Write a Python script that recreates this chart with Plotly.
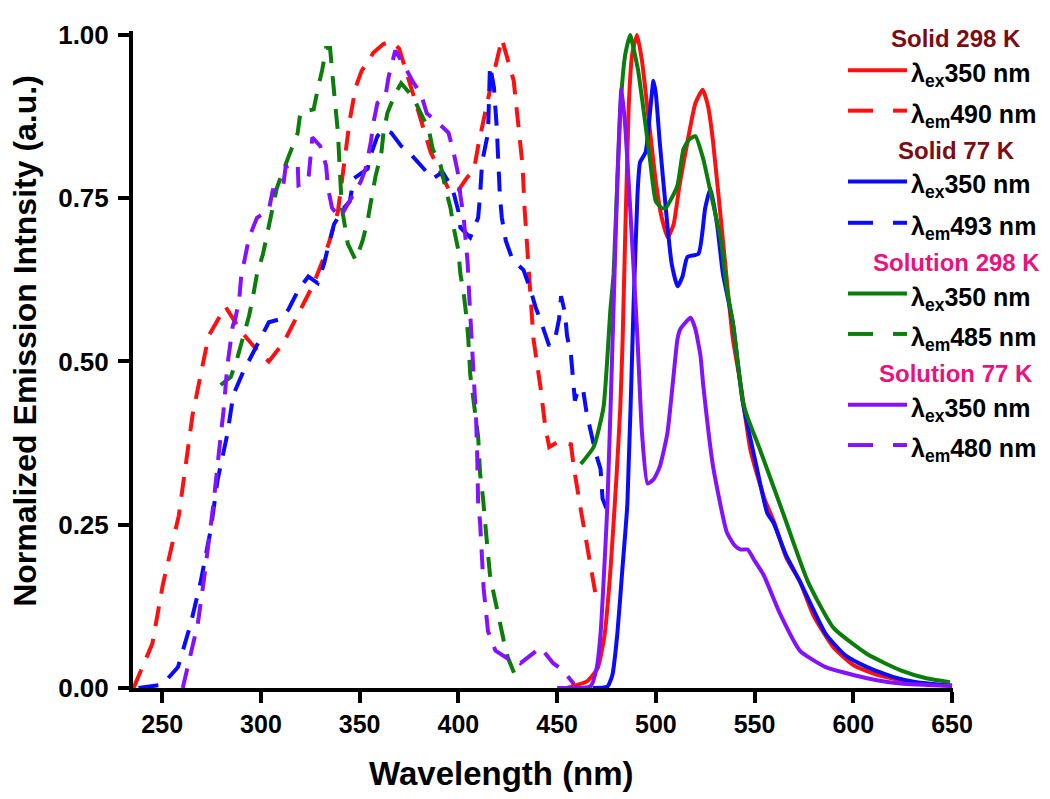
import plotly.graph_objects as go

# ---------------- data ----------------
# Solid 298 K, emission (lambda_ex 350 nm)
red_ex_x = [455, 465, 470.5, 474, 477, 480, 482, 483.2, 486.2, 488, 490.5, 493, 495.8, 500, 503, 506, 509, 512, 516, 520,
            523.7, 526.5, 529, 534, 539, 543, 548, 555, 560, 566, 573, 580, 590, 600, 612, 624, 637, 650]
red_ex_y = [0, 0.01, 0.03, 0.08, 0.18, 0.32, 0.43, 0.535, 0.886, 0.97, 1.0, 0.96, 0.886, 0.775, 0.72, 0.69, 0.71, 0.77,
            0.836, 0.895, 0.916, 0.89, 0.836, 0.685, 0.535, 0.464, 0.363, 0.29, 0.253, 0.2, 0.163, 0.11, 0.062, 0.035,
            0.02, 0.012, 0.006, 0.003]
# Solid 298 K, excitation (lambda_em 490 nm)
red_em_x = [235.5, 245, 250.3, 258.4, 265.4, 273.5, 282, 289.7, 298.9, 304, 311.5, 316.6, 326.7, 332, 335.3, 339, 341,
            342.5, 345, 348, 351, 357, 362, 366, 370, 377, 386, 391, 396, 400, 404, 408, 410, 416, 422, 428, 430, 432.5,
            433.5, 435, 438, 441.6, 444, 446, 451, 457, 458.4, 462, 466, 469.5]
red_em_y = [0, 0.068, 0.158, 0.264, 0.419, 0.539, 0.584, 0.547, 0.514, 0.5, 0.529, 0.559, 0.619, 0.66, 0.69, 0.73, 0.78,
            0.815, 0.87, 0.92, 0.945, 0.973, 0.986, 0.99, 0.979, 0.91, 0.82, 0.79, 0.757, 0.762, 0.78, 0.795, 0.83,
            0.916, 0.994, 0.93, 0.866, 0.8, 0.735, 0.664, 0.535, 0.46, 0.4, 0.369, 0.378, 0.373, 0.339, 0.273, 0.203,
            0.143]

# Solid 77 K, emission
blue_ex_x = [468, 475.4, 478, 480.5, 483, 485.6, 488.7, 490.7, 492, 494.8, 497, 498.8, 500, 502, 505.8, 508, 511, 513.5,
             516, 521.6, 525, 527.7, 531, 534, 539, 544, 551, 556.4, 559.6, 566, 573, 586, 596, 607, 620, 632, 650]
blue_ex_y = [0, 0.002, 0.02, 0.083, 0.18, 0.283, 0.584, 0.755, 0.805, 0.82, 0.88, 0.93, 0.91, 0.835, 0.71, 0.65, 0.615,
             0.63, 0.66, 0.665, 0.735, 0.765, 0.71, 0.634, 0.559, 0.438, 0.339, 0.268, 0.253, 0.203, 0.163, 0.083, 0.05,
             0.032, 0.017, 0.009, 0.004]
# Solid 77 K, excitation (lambda_em 493 nm)
blue_em_x = [238, 250, 258, 264.4, 269.5, 274.6, 278, 283, 286, 291, 298, 304, 310, 314, 319, 324, 328.7, 332, 334, 337,
             342, 345, 347, 354, 356, 359, 362, 366, 371, 376, 381, 387, 392, 397, 400, 401, 406, 410, 411, 412, 415,
             415.5, 416, 418, 419, 419.5, 420, 420.5, 421, 422, 424, 427.5, 433, 436.5, 439, 442.6, 446, 449, 451, 452,
             454, 455, 457, 458, 459, 460, 463, 465, 467, 469.5, 472, 473, 475.6]
blue_em_y = [0, 0.005, 0.032, 0.098, 0.163, 0.243, 0.318, 0.389, 0.449, 0.484, 0.525, 0.56, 0.565, 0.58, 0.61, 0.63,
             0.62, 0.65, 0.675, 0.71, 0.735, 0.745, 0.78, 0.795, 0.82, 0.845, 0.855, 0.85, 0.83, 0.817, 0.8, 0.78, 0.79,
             0.765, 0.73, 0.705, 0.69, 0.72, 0.755, 0.805, 0.85, 0.92, 0.953, 0.92, 0.886, 0.855, 0.82, 0.785, 0.755,
             0.72, 0.685, 0.655, 0.64, 0.61, 0.584, 0.554, 0.524, 0.535, 0.565, 0.6, 0.574, 0.54, 0.51, 0.475, 0.44,
             0.45, 0.46, 0.42, 0.39, 0.36, 0.335, 0.29, 0.27]

# Solution 298 K, emission
green_ex_x = [462, 468.5, 473.5, 477, 478.6, 482, 484.5, 487, 489, 491, 494, 497, 500, 503, 505, 508, 511, 514, 517, 520,
              524, 528, 533, 536, 539, 544, 546.5, 553, 565, 577, 590, 607, 624, 637, 649]
green_ex_y = [0.343, 0.369, 0.43, 0.58, 0.634, 0.886, 0.97, 1.0, 0.975, 0.946, 0.88, 0.81, 0.745, 0.735, 0.735, 0.75,
              0.77, 0.825, 0.84, 0.845, 0.81, 0.755, 0.685, 0.61, 0.56, 0.44, 0.414, 0.363, 0.263, 0.163, 0.092, 0.052,
              0.027, 0.015, 0.009]
# Solution 298 K, excitation (lambda_em 485 nm)
green_em_x = [279.6, 284.7, 288, 291, 294, 296, 298, 301, 303, 305, 308, 311, 315, 318.6, 320, 326.7, 328.7, 331, 333,
              335, 336, 337, 338, 339, 340, 341, 344, 348, 351.5, 354, 356, 358, 361, 362, 364, 368, 371, 377, 380, 385,
              387, 391, 393.5, 396, 397.6, 400, 401, 402.7, 404, 405, 406, 408, 410, 411, 412.5, 414, 415, 416, 418,
              420, 423, 425, 429]
green_em_y = [0.464, 0.476, 0.505, 0.535, 0.57, 0.6, 0.634, 0.664, 0.694, 0.724, 0.765, 0.79, 0.82, 0.85, 0.882, 0.886,
              0.916, 0.946, 0.98, 0.98, 0.946, 0.916, 0.88, 0.85, 0.79, 0.735, 0.68, 0.655, 0.685, 0.715, 0.75, 0.783,
              0.82, 0.848, 0.88, 0.91, 0.926, 0.905, 0.886, 0.855, 0.825, 0.8, 0.765, 0.735, 0.705, 0.67, 0.634, 0.604,
              0.57, 0.535, 0.48, 0.43, 0.385, 0.328, 0.29, 0.238, 0.203, 0.173, 0.143, 0.113, 0.072, 0.047, 0.017]

# Solution 77 K, emission
purple_ex_x = [450, 467, 470, 472, 475.5, 478.6, 480.6, 482.6, 484.5, 487, 490.7, 493, 495.8, 499, 502, 505.8, 508.5,
               511, 512.5, 517.6, 520, 522.6, 524, 529, 536, 540, 543, 546.5, 550, 554.6, 563, 573, 586, 600, 612, 624,
               650]
purple_ex_y = [0, 0.003, 0.03, 0.083, 0.283, 0.584, 0.785, 0.918, 0.86, 0.735, 0.535, 0.39, 0.313, 0.32, 0.339, 0.389,
               0.464, 0.535, 0.55, 0.567, 0.55, 0.509, 0.464, 0.339, 0.238, 0.218, 0.212, 0.212, 0.195, 0.173, 0.113,
               0.057, 0.032, 0.02, 0.012, 0.007, 0.003]
# Solution 77 K, excitation (lambda_em 480 nm)
purple_em_x = [260.4, 263, 268, 271, 273.5, 276, 278.6, 281, 283, 285.7, 287, 289, 290, 292, 294, 298, 304, 306, 311,
               312.5, 318.6, 319, 324, 326, 330, 333, 334, 336, 340, 350.5, 353, 355.6, 357, 359, 363, 364.6, 367, 368,
               372, 377, 381, 384, 389.5, 395, 397.6, 400, 401, 402.7, 403.7, 404.7, 405.5, 406.5, 407.5, 408.7, 409,
               409.5, 409.8, 410, 411, 411.5, 412, 412.8, 413.8, 415, 418.8, 425, 428, 431.5, 441.6, 448, 453, 458, 459]
purple_em_y = [0, 0.032, 0.098, 0.163, 0.223, 0.283, 0.358, 0.423, 0.494, 0.554, 0.565, 0.595, 0.63, 0.66, 0.69, 0.72,
               0.732, 0.762, 0.762, 0.798, 0.803, 0.77, 0.777, 0.843, 0.83, 0.8, 0.765, 0.735, 0.72, 0.775, 0.795, 0.835,
               0.866, 0.896, 0.905, 0.935, 0.965, 0.976, 0.956, 0.928, 0.91, 0.88, 0.866, 0.85, 0.82, 0.785, 0.755, 0.72,
               0.685, 0.65, 0.6, 0.55, 0.5, 0.444, 0.41, 0.36, 0.318, 0.283, 0.253, 0.218, 0.188, 0.152, 0.122, 0.087,
               0.057, 0.045, 0.047, 0.038, 0.062, 0.038, 0.027, 0.008, 0]

x_ticks = [250, 300, 350, 400, 450, 500, 550, 600, 650]
y_ticks = [0.0, 0.25, 0.5, 0.75, 1.0]
y_tick_text = ["0.00", "0.25", "0.50", "0.75", "1.00"]

group_titles = ["Solid 298 K", "Solid 77 K", "Solution 298 K", "Solution 77 K"]
group_title_colors = ["#7a0c12", "#7a0c12", "#e8137f", "#e8137f"]
legend_ex_labels = ["350", "350", "350", "350"]
legend_em_labels = ["490", "493", "485", "480"]

RED, BLUE, GREEN, PURPLE = "#ff1010", "#0a0aff", "#0a7d0a", "#8412ff"
colors = [RED, BLUE, GREEN, PURPLE]

FONT = "Liberation Sans, Arial, Helvetica, sans-serif"
DASH = "20px,13px"

fig = go.Figure()

dashed = [(red_em_x, red_em_y, RED), (blue_em_x, blue_em_y, BLUE),
          (green_em_x, green_em_y, GREEN), (purple_em_x, purple_em_y, PURPLE)]
for xs, ys, c in dashed:
    fig.add_trace(go.Scatter(x=xs, y=ys, mode="lines", showlegend=False,
                             line=dict(color=c, width=4, dash=DASH)))

solid = [(red_ex_x, red_ex_y, RED), (blue_ex_x, blue_ex_y, BLUE),
         (green_ex_x, green_ex_y, GREEN), (purple_ex_x, purple_ex_y, PURPLE)]
for xs, ys, c in solid:
    fig.add_trace(go.Scatter(x=xs, y=ys, mode="lines", showlegend=False,
                             line=dict(color=c, width=4, shape="spline", smoothing=0.5)))

# ---------------- layout ----------------
# page body has an 8px margin: work in screen pixels, convert to figure pixels
OFF = 8
W, H = 1050, 799
L, R, T, B = 133 - OFF, 953 - OFF, 20 - OFF, 688 - OFF


def px2paper_x(px):
    return (px - OFF - L) / (R - L)


def px2paper_y(py):
    return (B - (py - OFF)) / (B - T)


shapes = []
annotations = []

# custom legend (drawn as decoration in paper coordinates)
title_rows = [28, 142, 255, 368]
ex_rows = [60, 173, 287, 400]
em_rows = [101, 215, 328, 441]
for i in range(4):
    annotations.append(dict(x=px2paper_x(956), y=px2paper_y(title_rows[i]), xref="paper", yref="paper",
                            text=group_titles[i], showarrow=False, xanchor="center", yanchor="middle",
                            font=dict(family=FONT, size=24, color=group_title_colors[i], weight="bold")))
    # solid sample
    shapes.append(dict(type="line", xref="paper", yref="paper",
                       x0=px2paper_x(848), x1=px2paper_x(907),
                       y0=px2paper_y(ex_rows[i]), y1=px2paper_y(ex_rows[i]),
                       line=dict(color=colors[i], width=4)))
    # dashed sample
    for a, b in [(848, 873), (893, 907)]:
        shapes.append(dict(type="line", xref="paper", yref="paper",
                           x0=px2paper_x(a), x1=px2paper_x(b),
                           y0=px2paper_y(em_rows[i]), y1=px2paper_y(em_rows[i]),
                           line=dict(color=colors[i], width=4)))
    annotations.append(dict(x=px2paper_x(909), y=px2paper_y(ex_rows[i] + 5), xref="paper", yref="paper",
                            text="λ<sub>ex</sub>" + legend_ex_labels[i] + " nm", showarrow=False,
                            xanchor="left", yanchor="middle",
                            font=dict(family=FONT, size=25, color="black", weight="bold")))
    annotations.append(dict(x=px2paper_x(909), y=px2paper_y(em_rows[i] + 5), xref="paper", yref="paper",
                            text="λ<sub>em</sub>" + legend_em_labels[i] + " nm", showarrow=False,
                            xanchor="left", yanchor="middle",
                            font=dict(family=FONT, size=25, color="black", weight="bold")))

# axis titles
annotations.append(dict(x=px2paper_x(501), y=px2paper_y(775), xref="paper", yref="paper",
                        text="Wavelength (nm)", showarrow=False, xanchor="center", yanchor="middle",
                        font=dict(family=FONT, size=33, color="black", weight="bold")))
annotations.append(dict(x=px2paper_x(25), y=px2paper_y(335), xref="paper", yref="paper",
                        text="Normalized Emission Intnsity (a.u.)", showarrow=False, textangle=-90,
                        xanchor="center", yanchor="middle",
                        font=dict(family=FONT, size=32, color="black", weight="bold")))

fig.update_layout(
    width=W, height=H,
    margin=dict(l=L, r=W - R, t=T, b=H - B, pad=0),
    paper_bgcolor="white", plot_bgcolor="white",
    showlegend=False,
    shapes=shapes, annotations=annotations,
    xaxis=dict(range=[235.2, 650.5], tickvals=x_ticks, ticks="outside", ticklen=11, tickwidth=4,
               tickcolor="black", showline=True, linecolor="black", linewidth=4, showgrid=False,
               zeroline=False, tickfont=dict(family=FONT, size=25, color="black", weight="bold")),
    yaxis=dict(range=[0, 1.006], tickvals=y_ticks, ticktext=y_tick_text, ticks="outside", ticklen=11,
               tickwidth=4, tickcolor="black", showline=True, linecolor="black", linewidth=4,
               showgrid=False, zeroline=False, ticklabelstandoff=4,
               tickfont=dict(family=FONT, size=26, color="black", weight="bold")),
)

fig.write_html("out.html")
